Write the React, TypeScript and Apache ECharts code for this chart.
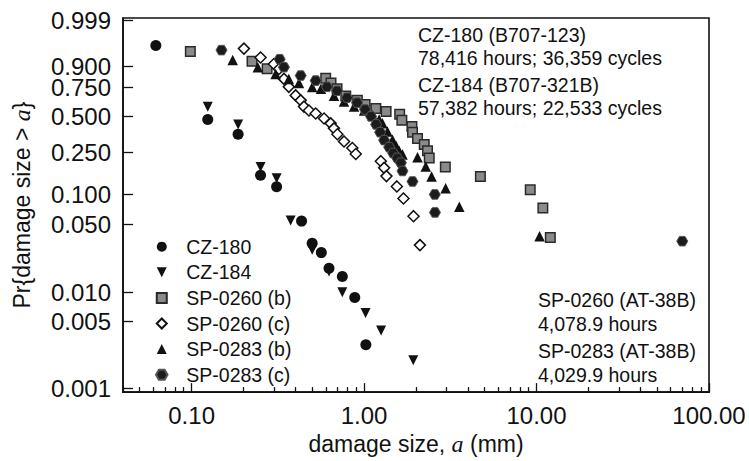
import React, { useEffect, useRef } from "react";
import * as echarts from "echarts";

// ---------- data (x = damage size in mm, p = Pr{damage size > a}) ----------
const seriesNames = ["CZ-180", "CZ-184", "SP-0260 (b)", "SP-0260 (c)", "SP-0283 (b)", "SP-0283 (c)"];

const yTickLabels = [0.001, 0.005, 0.01, 0.05, 0.1, 0.25, 0.5, 0.75, 0.9, 0.999];
const xMinorTicks = [
  0.04, 0.05, 0.06, 0.07, 0.08, 0.09,
  0.2, 0.3, 0.4, 0.5, 0.6, 0.7, 0.8, 0.9,
  2, 3, 4, 5, 6, 7, 8, 9,
  20, 30, 40, 50, 60, 70, 80, 90,
];

const cz180 = [
  [0.062, 0.977], [0.124, 0.472], [0.186, 0.361], [0.251, 0.154], [0.311, 0.119],
  [0.434, 0.054], [0.5, 0.032], [0.565, 0.0257], [0.626, 0.0177], [0.748, 0.0146],
  [0.883, 0.0088], [1.024, 0.00284],
];
const cz184 = [
  [0.124, 0.579], [0.186, 0.433], [0.251, 0.184], [0.311, 0.144], [0.375, 0.0549],
  [0.5, 0.0275], [0.626, 0.0164], [0.748, 0.01], [1.02, 0.0061], [1.255, 0.004],
  [1.928, 0.00196],
];
const sp0260b = [
  [0.0983, 0.962], [0.224, 0.925], [0.274, 0.885], [0.599, 0.821], [0.643, 0.785],
  [0.697, 0.737], [0.783, 0.674], [0.914, 0.636], [1.014, 0.599], [1.17, 0.564],
  [1.342, 0.538], [1.608, 0.515], [1.656, 0.465], [1.894, 0.416], [1.909, 0.375],
  [2.041, 0.332], [2.233, 0.296], [2.333, 0.26], [2.387, 0.224], [2.958, 0.184],
  [4.725, 0.15], [9.193, 0.111], [10.88, 0.0733], [12.02, 0.0367],
];
const sp0260c = [
  [0.201, 0.97], [0.251, 0.941], [0.3, 0.911], [0.321, 0.883], [0.343, 0.816],
  [0.366, 0.753], [0.401, 0.68], [0.429, 0.636], [0.448, 0.581], [0.479, 0.547],
  [0.524, 0.522], [0.586, 0.48], [0.64, 0.441], [0.669, 0.403], [0.7, 0.361],
  [0.765, 0.314], [0.855, 0.275], [0.895, 0.243], [1.251, 0.209], [1.307, 0.181],
  [1.348, 0.151], [1.549, 0.12], [1.692, 0.0913], [1.935, 0.0606], [2.108, 0.0307],
];
const sp0283b = [
  [0.173, 0.93], [0.242, 0.893], [0.307, 0.851], [0.366, 0.816], [0.419, 0.785],
  [0.5, 0.751], [0.562, 0.737], [0.669, 0.677], [0.765, 0.625], [0.875, 0.581],
  [1.0, 0.547], [1.118, 0.507], [1.222, 0.472], [1.278, 0.441], [1.366, 0.38],
  [1.461, 0.324], [1.535, 0.286], [1.597, 0.26], [1.67, 0.24], [2.041, 0.227],
  [2.279, 0.186], [2.462, 0.15], [2.97, 0.115], [3.567, 0.0752], [10.41, 0.0379],
];
const sp0283c = [
  [0.149, 0.966], [0.324, 0.934], [0.343, 0.894], [0.429, 0.84], [0.524, 0.803],
  [0.609, 0.753], [0.697, 0.72], [0.797, 0.66], [0.911, 0.616], [1.014, 0.556],
  [1.098, 0.497], [1.174, 0.433], [1.239, 0.375], [1.307, 0.322], [1.398, 0.28],
  [1.474, 0.248], [1.556, 0.224], [1.634, 0.202], [1.67, 0.169], [1.909, 0.134],
  [2.57, 0.1], [2.576, 0.0661], [69.97, 0.0337],
];

const topNotes = ["CZ-180 (B707-123)", "78,416 hours; 36,359 cycles", "CZ-184 (B707-321B)", "57,382 hours; 22,533 cycles"];
const bottomNotes = ["SP-0260 (AT-38B)", "4,078.9 hours", "SP-0283 (AT-38B)", "4,029.9 hours"];

// ---------- helpers ----------
const FONT = '"Liberation Sans", Arial, Helvetica, sans-serif';
const SERIF = '"Liberation Serif", "Times New Roman", serif';
const weib = (p: number) => Math.log(-Math.log(1 - p)); // Weibull probability scale
const toPoints = (arr: number[][]) => arr.map(([x, p]) => [x, weib(p)]);

const HEX = "path://M-1,0 L-0.5,-0.866 L0.5,-0.866 L1,0 L0.5,0.866 L-0.5,0.866 Z";
const TRI_DOWN = "path://M-1,-1 L1,-1 L0,1 Z";
const TRI_UP = "path://M0,-1 L1,1 L-1,1 Z";
const SQUARE = "path://M-1,-1 L1,-1 L1,1 L-1,1 Z";
const DIAMOND = "path://M0,-1 L1,0 L0,1 L-1,0 Z";
const CIRCLE = "circle";

export default function App() {
  const ref = useRef<HTMLDivElement>(null);
  useEffect(() => {
    if (!ref.current) return;
    const chart = echarts.init(ref.current, undefined, { renderer: "svg" });
    const yTickVals = yTickLabels.map(weib);
    const textCol = "#111";

    const mk = (name: string, data: number[][], symbol: string, size: number, itemStyle: any, z: number) => ({
      name,
      type: "scatter",
      data: toPoints(data),
      symbol,
      symbolSize: size,
      symbolKeepAspect: true,
      itemStyle: { opacity: 1, ...itemStyle },
      emphasis: { disabled: true },
      z,
      xAxisIndex: 0,
      yAxisIndex: 0,
    });

    const graphics: any[] = [];
    const topY = [35, 58.3, 85, 108.3];
    topNotes.forEach((t, i) =>
      graphics.push({
        type: "text",
        x: 418,
        y: topY[i],
        style: { text: t, fontSize: 19.5, fontFamily: FONT, fill: textCol, verticalAlign: "middle", align: "left" },
      })
    );
    const botY = [299.5, 323.5, 351, 375];
    bottomNotes.forEach((t, i) =>
      graphics.push({
        type: "text",
        x: 538,
        y: botY[i],
        style: { text: t, fontSize: 19.5, fontFamily: FONT, fill: textCol, verticalAlign: "middle", align: "left" },
      })
    );

    chart.setOption({
      animation: false,
      backgroundColor: "#ffffff",
      grid: {
        left: 123,
        top: 18,
        right: 40,
        bottom: 64,
        show: true,
        borderColor: textCol,
        borderWidth: 1.6,
        containLabel: false,
      },
      legend: {
        orient: "vertical",
        left: 155,
        top: 236.7,
        padding: 0,
        itemWidth: 39,
        itemHeight: 10,
        itemGap: 5.6,
        symbolKeepAspect: true,
        selectedMode: false,
        data: seriesNames,
        textStyle: { fontSize: 19.5, fontFamily: FONT, color: textCol, lineHeight: 20 },
      },
      xAxis: [
        {
          type: "log",
          logBase: 10,
          min: 0.04,
          max: 100,
          axisLine: { show: true, onZero: false, lineStyle: { color: textCol, width: 1.6 } },
          axisTick: { show: true, inside: true, length: 9, lineStyle: { color: textCol, width: 1.3 } },
          axisLabel: {
            showMinLabel: false,
            fontSize: 24,
            fontFamily: FONT,
            color: textCol,
            margin: 11,
            formatter: (v: number) => v.toFixed(2),
          },
          splitLine: { show: false },
          minorTick: { show: false },
          name: "damage size, {i|a} (mm)",
          nameLocation: "middle",
          nameGap: 36,
          nameTextStyle: {
            fontSize: 23,
            fontFamily: FONT,
            color: textCol,
            rich: { i: { fontSize: 24, fontStyle: "italic", fontFamily: SERIF, color: textCol } },
          },
        },
        {
          type: "log",
          logBase: 10,
          min: 0.04,
          max: 100,
          position: "bottom",
          axisLine: { show: false, onZero: false },
          axisTick: { show: true, inside: true, length: 5, customValues: xMinorTicks, lineStyle: { color: textCol, width: 1.3 } },
          axisLabel: { show: false },
          splitLine: { show: false },
        },
      ],
      yAxis: {
        type: "value",
        min: -7.0,
        max: 1.99,
        axisLine: { show: true, onZero: false, lineStyle: { color: textCol, width: 1.6 } },
        axisTick: { show: true, inside: true, length: 10, customValues: yTickVals, lineStyle: { color: textCol, width: 1.3 } },
        axisLabel: {
          customValues: yTickVals,
          fontSize: 24,
          lineHeight: 19,
          fontFamily: FONT,
          color: textCol,
          margin: 12,
          formatter: (v: number) => {
            let best = 0;
            yTickVals.forEach((tv, i) => {
              if (Math.abs(tv - v) < Math.abs(yTickVals[best] - v)) best = i;
            });
            return yTickLabels[best].toFixed(3);
          },
        },
        splitLine: { show: false },
        name: "Pr{damage size > {i|a}}",
        nameLocation: "middle",
        nameGap: 89,
        nameTextStyle: {
          fontSize: 23,
          fontFamily: FONT,
          color: textCol,
          rich: { i: { fontSize: 24, fontStyle: "italic", fontFamily: SERIF, color: textCol } },
        },
      },
      series: [
        mk(seriesNames[0], cz180, CIRCLE, 11, { color: "#111" }, 2),
        mk(seriesNames[1], cz184, TRI_DOWN, 10, { color: "#111" }, 2),
        mk(seriesNames[2], sp0260b, SQUARE, 9.5, { color: "#8a8a8a", borderColor: "#2a2a2a", borderWidth: 1.5 }, 2),
        mk(seriesNames[3], sp0260c, DIAMOND, 11, { color: "#ffffff", borderColor: "#111", borderWidth: 1.5 }, 3),
        mk(seriesNames[4], sp0283b, TRI_UP, 10.5, { color: "#111" }, 4),
        mk(seriesNames[5], sp0283c, HEX, 11, { color: "#1c1c1c", borderColor: "#555", borderWidth: 1 }, 4),
      ],
      graphic: graphics,
    });
    return () => chart.dispose();
  }, []);

  return <div ref={ref} style={{ position: "fixed", left: 0, top: 0, width: 749, height: 461 }} />;
}
